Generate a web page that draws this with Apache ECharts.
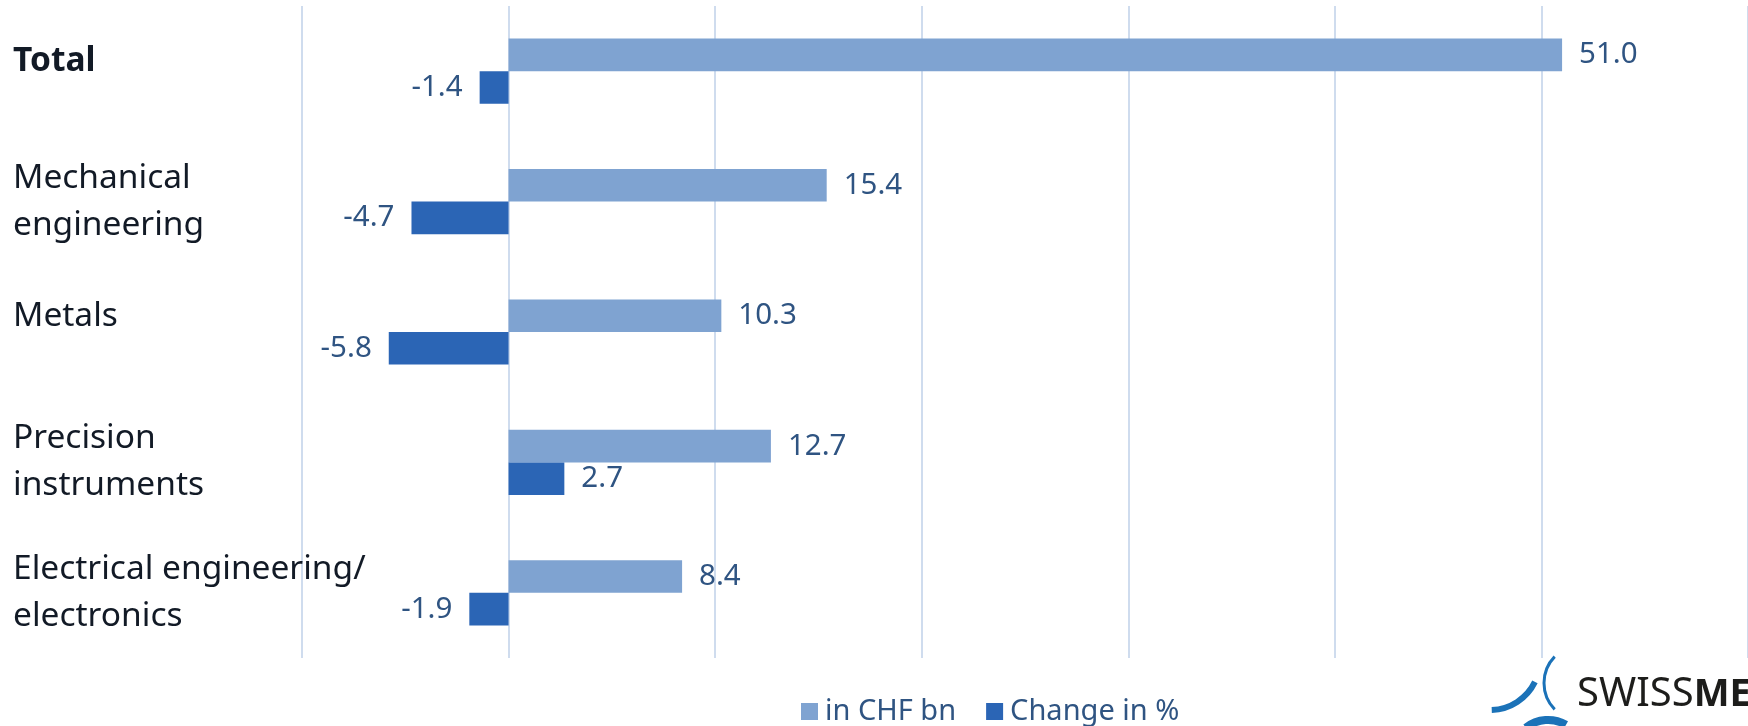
<!DOCTYPE html>
<html lang="en">
<head>
    <meta charset="utf-8">
    <title>Swissmem exports</title>
    <script src="https://cdn.jsdelivr.net/npm/echarts@6/dist/echarts.min.js"></script>
    <style>
        html, body { margin: 0; padding: 0; background: #fff; }
        #main { width: 1748px; height: 726px; }
    </style>
</head>
<body>
<div id="main"></div>

<script type="text/javascript">
    // data
    var categories = ['Total', 'Mechanical\nengineering', 'Metals', 'Precision\ninstruments', 'Electrical engineering/\nelectronics'];
    var valueChf = [51.0, 15.4, 10.3, 12.7, 8.4];
    var changePct = [-1.4, -4.7, -5.8, 2.7, -1.9];
    var axisTicks = [-10, 0, 10, 20, 30, 40, 50, 60];

    var FONT = '"Noto Sans", sans-serif';
    var labelColor = '#2f5482';

    var myChart = echarts.init(document.getElementById('main'));

    // label on the outside end of each bar
    var changeData = changePct.map(function (v) {
        return { value: v, label: { position: v < 0 ? 'left' : 'right' } };
    });

    myChart.setOption({
        animation: false,
        textStyle: { fontFamily: FONT },
        grid: { left: 302, right: 0, top: 6, bottom: 68 },
        legend: {
            left: 796,
            top: 692,
            itemWidth: 17,
            itemHeight: 17,
            itemGap: 30,
            icon: 'rect',
            textStyle: { fontSize: 29, color: labelColor, fontFamily: FONT, padding: [0, 0, 0, 2] },
            data: ['in CHF bn', 'Change in %']
        },
        xAxis: {
            type: 'value',
            min: axisTicks[0],
            max: axisTicks[axisTicks.length - 1],
            interval: 10,
            axisLabel: { show: false },
            axisLine: { show: false },
            axisTick: { show: false },
            splitLine: { lineStyle: { color: '#cfdcee', width: 2 } }
        },
        yAxis: {
            type: 'category',
            inverse: true,
            data: categories,
            axisLine: { show: false },
            axisTick: { show: false },
            axisLabel: {
                align: 'left',
                margin: 289,
                fontSize: 33.5,
                lineHeight: 47,
                color: '#121a26',
                fontFamily: FONT,
                formatter: function (v) {
                    if (v === 'Total') return '{b|Total}';
                    if (v === 'Metals') return '{u|Metals}';
                    return v;
                },
                rich: {
                    b: { fontSize: 33.5, fontWeight: 'bold', color: '#121a26', fontFamily: FONT, padding: [0, 0, 20, 0] },
                    u: { fontSize: 33.5, color: '#121a26', fontFamily: FONT, padding: [0, 0, 32, 0] }
                }
            }
        },
        series: [{
            name: 'in CHF bn',
            type: 'bar',
            data: valueChf,
            barGap: '0%',
            barCategoryGap: '50%',
            itemStyle: { color: '#7fa3d1' },
            label: {
                show: true,
                position: 'right',
                distance: 17,
                fontSize: 29.5,
                color: labelColor,
                fontFamily: FONT,
                formatter: function (p) { return p.value.toFixed(1); }
            }
        }, {
            name: 'Change in %',
            type: 'bar',
            data: changeData,
            itemStyle: { color: '#2b65b5' },
            label: {
                show: true,
                distance: 17,
                fontSize: 29.5,
                color: labelColor,
                fontFamily: FONT,
                formatter: function (p) { return p.value.toFixed(1); }
            }
        }],
        graphic: [
            { type: 'arc', shape: { cx: 1582, cy: 683, r: 38, startAngle: 136 * Math.PI / 180, endAngle: 224 * Math.PI / 180, clockwise: true },
              style: { stroke: '#1b72b8', lineWidth: 3, fill: null } },
            { type: 'arc', shape: { cx: 1490, cy: 660, r: 50, startAngle: 26 * Math.PI / 180, endAngle: 88 * Math.PI / 180, clockwise: true },
              style: { stroke: '#1b72b8', lineWidth: 6, fill: null } },
            { type: 'arc', shape: { cx: 1548, cy: 756, r: 36, startAngle: 232 * Math.PI / 180, endAngle: 300 * Math.PI / 180, clockwise: true },
              style: { stroke: '#1b72b8', lineWidth: 8, fill: null } },
            { type: 'text', left: 1577, top: 675,
              style: { text: '{a|SWISS}{b|MEM}', rich: {
                  a: { fontSize: 40, fontFamily: FONT, fill: '#1d1d1b' },
                  b: { fontSize: 38, fontFamily: FONT, fontWeight: 'bold', fill: '#1d1d1b' }
              } } }
        ]
    });
</script>
</body>
</html>
